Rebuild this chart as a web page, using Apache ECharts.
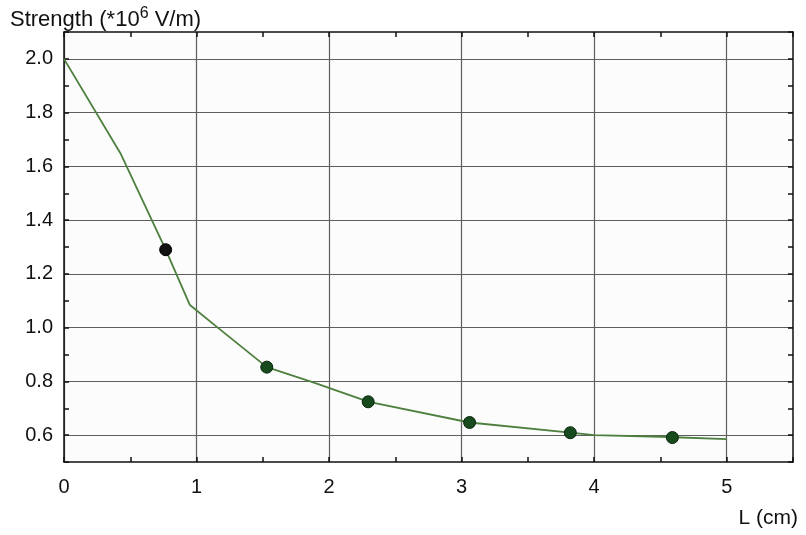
<!DOCTYPE html>
<html>
<head>
<meta charset="utf-8">
<title>Strength vs L</title>
<script src="https://cdn.jsdelivr.net/npm/echarts@6/dist/echarts.min.js"></script>
<style>
  html, body { margin: 0; padding: 0; background: #ffffff; }
  #chart { width: 806px; height: 535px; }
</style>
</head>
<body>
<div id="chart"></div>
<script>
// Field strength along L: the fitted curve and the measured points
const curveL = [0, 0.43, 0.767, 0.95, 1.16, 1.53, 1.88, 2.3, 3.06, 3.82, 4.0, 4.5, 5.0];
const curveE = [2.0, 1.645, 1.29, 1.084, 1.0, 0.853, 0.796, 0.724, 0.647, 0.609, 0.600, 0.594, 0.585];

const pointL = [0.767, 1.53, 2.295, 3.06, 3.82, 4.59];
const pointE = [1.29, 0.853, 0.724, 0.647, 0.609, 0.591];

// Axis ranges and labelled ticks
const xRange = [0, 5.5];
const yRange = [0.5, 2.1];
const xLabelValues = [0, 1, 2, 3, 4, 5];
const yLabelValues = [0.6, 0.8, 1.0, 1.2, 1.4, 1.6, 1.8, 2.0];

const chart = echarts.init(document.getElementById('chart'), null, { renderer: 'canvas' });

const FONT = 'Liberation Sans, Arial, sans-serif';
const GRID_COLOR = '#5e5e5e';
const hasValue = (list, v) => list.some(t => Math.abs(t - v) < 1e-6);

const frameAxis = {
  axisLine: { show: true, onZero: false, lineStyle: { color: '#111', width: 1.5 } },
  axisTick: { show: true, inside: true, length: 5, lineStyle: { color: '#111', width: 1.5 } }
};

const curveData = curveL.map((l, i) => [l, curveE[i]]);
const pointData = pointL.map((l, i) => {
  const item = { value: [l, pointE[i]] };
  if (i === 0) {
    item.itemStyle = { color: '#121212', borderColor: '#000', borderWidth: 1, opacity: 1 };
  }
  return item;
});

chart.setOption({
  animation: false,
  backgroundColor: '#ffffff',
  graphic: [
    {
      type: 'text',
      left: 10,
      top: 6,
      style: {
        text: '{a|Strength (*10}{s|6}{a| V/m)}',
        rich: {
          a: { fontFamily: FONT, fontSize: 22, fill: '#111', lineHeight: 25, verticalAlign: 'bottom' },
          s: { fontFamily: FONT, fontSize: 16, fill: '#111', lineHeight: 25, verticalAlign: 'top' }
        }
      }
    },
    {
      type: 'text',
      right: 8,
      top: 508,
      style: { text: 'L (cm)', fontFamily: FONT, fontSize: 21, fill: '#111' }
    }
  ],
  grid: { left: 64, right: 13, top: 32, bottom: 73, show: true, backgroundColor: '#fcfcfc', borderWidth: 0 },
  xAxis: [
    Object.assign({}, frameAxis, {
      type: 'value', position: 'bottom',
      min: xRange[0], max: xRange[1], interval: 0.5,
      axisLabel: {
        show: true, margin: 15, fontFamily: FONT, fontSize: 20, color: '#111',
        showMinLabel: true, showMaxLabel: true,
        formatter: v => hasValue(xLabelValues, v) ? String(Math.round(v)) : ''
      },
      splitLine: { show: true, lineStyle: { color: [GRID_COLOR, 'rgba(0,0,0,0)'], width: 1.2 } }
    }),
    Object.assign({}, frameAxis, {
      type: 'value', position: 'top',
      min: xRange[0], max: xRange[1], interval: 0.5,
      axisLabel: { show: false }, splitLine: { show: false }
    })
  ],
  yAxis: [
    Object.assign({}, frameAxis, {
      type: 'value', position: 'left',
      min: yRange[0], max: yRange[1], interval: 0.1,
      axisLabel: {
        show: true, margin: 11, fontFamily: FONT, fontSize: 20, color: '#111',
        formatter: v => hasValue(yLabelValues, v) ? v.toFixed(1) : ''
      },
      splitLine: { show: true, lineStyle: { color: ['rgba(0,0,0,0)', GRID_COLOR], width: 1.2 } }
    }),
    Object.assign({}, frameAxis, {
      type: 'value', position: 'right',
      min: yRange[0], max: yRange[1], interval: 0.1,
      axisLabel: { show: false }, splitLine: { show: false }
    })
  ],
  series: [
    {
      type: 'line',
      data: curveData,
      showSymbol: false,
      symbol: 'none',
      smooth: false,
      lineStyle: { color: '#4d7f3e', width: 1.8 },
      z: 3
    },
    {
      type: 'scatter',
      data: pointData,
      symbol: 'circle',
      symbolSize: 12,
      itemStyle: { color: '#174a1d', borderColor: '#0a250d', borderWidth: 1, opacity: 1 },
      z: 4
    }
  ]
});
</script>
</body>
</html>
